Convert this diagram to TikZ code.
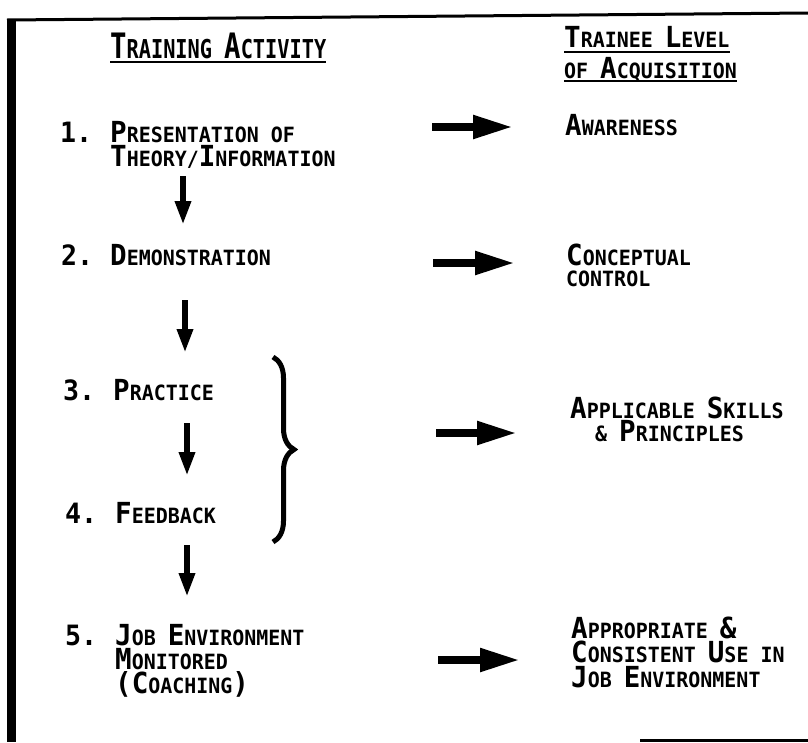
\documentclass[tikz,border=0pt]{standalone}
\usepackage{fontspec}
\newfontfamily\tw{DejaVu Sans Mono}[FakeStretch=0.95]
\newfontfamily\twh{DejaVu Sans Mono}[FakeStretch=0.78]
\usetikzlibrary{arrows.meta,decorations.pathreplacing}
\newcommand\Bc[1]{{\fontsize{29}{24}\selectfont #1}}
\newcommand\Bh[1]{{\fontsize{35}{30}\selectfont #1}}
\newcommand\ML[2]{\vtop{\baselineskip=#1pt\lineskiplimit=-60pt\lineskip=0pt #2}}
\begin{document}
\begin{tikzpicture}[x=1pt,y=-1pt,
 txt/.style={anchor=base west,inner sep=0pt,font=\tw\bfseries\fontsize{21}{24}\selectfont},
 num/.style={anchor=base west,inner sep=0pt,font=\tw\bfseries\fontsize{28}{30}\selectfont},
 head/.style={anchor=base west,inner sep=0pt,font=\twh\bfseries\fontsize{26}{30}\selectfont},
 downarr/.style={line width=6.5pt,-{Triangle[width=15pt,length=24pt]}},
 rightarr/.style={line width=8pt,-{Triangle[width=22pt,length=40pt]}},
 uline/.style={line width=2.5pt},
 bracestyle/.style={line width=5pt,decorate,decoration={brace,amplitude=21pt}}]
\useasboundingbox (0,0) rectangle (808,742);
\fill[white] (0,0) rectangle (808,742);
% borders
\fill (7,19) rectangle (16,742);
\draw[line width=3pt] (7,20) -- (808,13);
\draw[line width=3pt] (640,740.5) -- (808,740.5);
% headings
\node[head] (hl) at (110,58) {\Bh{T}RAINING \Bh{A}CTIVITY};
\draw[uline] ([yshift=-4pt]hl.base west) -- ([yshift=-4pt]hl.base east);
\node[txt] (hr1) at (564,47) {\Bc{T}RAINEE \Bc{L}EVEL};
\node[txt] (hr2) at (564,78) {OF \Bc{A}CQUISITION};
\draw[uline] ([yshift=-5pt]hr1.base west) -- ([yshift=-5pt]hr1.base east);
\draw[uline] ([yshift=-3pt]hr2.base west) -- ([yshift=-3pt]hr2.base east);
% numbers
\node[num] (n1) at (60,142) {1.};
\node[num] (n2) at (61,265) {2.};
\node[num] (n3) at (63,400) {3.};
\node[num] (n4) at (65,523) {4.};
\node[num] (n5) at (65,645) {5.};
% activities
\node[txt] (t1) at (110,142) {\ML{24}{\hbox{\Bc{P}RESENTATION OF}\hbox{\Bc{T}HEORY/\Bc{I}NFORMATION}}};
\node[txt] (t2) at (110,265) {\Bc{D}EMONSTRATION};
\node[txt] (t3) at (113,400) {\Bc{P}RACTICE};
\node[txt] (t4) at (115,523) {\Bc{F}EEDBACK};
\node[txt] (t5) at (115,645) {\ML{24}{\hbox{\Bc{J}OB \Bc{E}NVIRONMENT}\hbox{\Bc{M}ONITORED}\hbox{\Bc{(}\Bc{C}OACHING\Bc{)}}}};
% levels
\node[txt] (r1) at (565,135) {\Bc{A}WARENESS};
\node[txt] (r2) at (566,265) {\ML{21}{\hbox{\Bc{C}ONCEPTUAL}\hbox{CONTROL}}};
\node[txt] (r3) at (570,418) {\ML{23}{\hbox{\Bc{A}PPLICABLE \Bc{S}KILLS}\hbox{\hskip25pt\& \Bc{P}RINCIPLES}}};
\node[txt] (r4) at (571,638) {\ML{24.5}{\hbox{\Bc{A}PPROPRIATE \Bc{\&}}\hbox{\Bc{C}ONSISTENT \Bc{U}SE IN}\hbox{\Bc{J}OB \Bc{E}NVIRONMENT}}};
% down arrows
\coordinate (d1a) at (183,176); \coordinate (d1b) at (183,225);
\coordinate (d2a) at (185,300); \coordinate (d2b) at (185,353);
\coordinate (d3a) at (187,423); \coordinate (d3b) at (187,476);
\coordinate (d4a) at (187,545); \coordinate (d4b) at (187,597);
\draw[downarr] (d1a) -- (d1b);
\draw[downarr] (d2a) -- (d2b);
\draw[downarr] (d3a) -- (d3b);
\draw[downarr] (d4a) -- (d4b);
% right arrows
\coordinate (a1a) at (432,127); \coordinate (a1b) at (513,127);
\coordinate (a2a) at (433,263); \coordinate (a2b) at (515,263);
\coordinate (a3a) at (436,433); \coordinate (a3b) at (517,433);
\coordinate (a4a) at (438,660); \coordinate (a4b) at (520,660);
\draw[rightarr] (a1a) -- (a1b);
\draw[rightarr] (a2a) -- (a2b);
\draw[rightarr] (a3a) -- (a3b);
\draw[rightarr] (a4a) -- (a4b);
% brace
\coordinate (bt) at (273,357); \coordinate (bb) at (273,542);
\draw[bracestyle] (bt) -- (bb);
\end{tikzpicture}
\end{document}
